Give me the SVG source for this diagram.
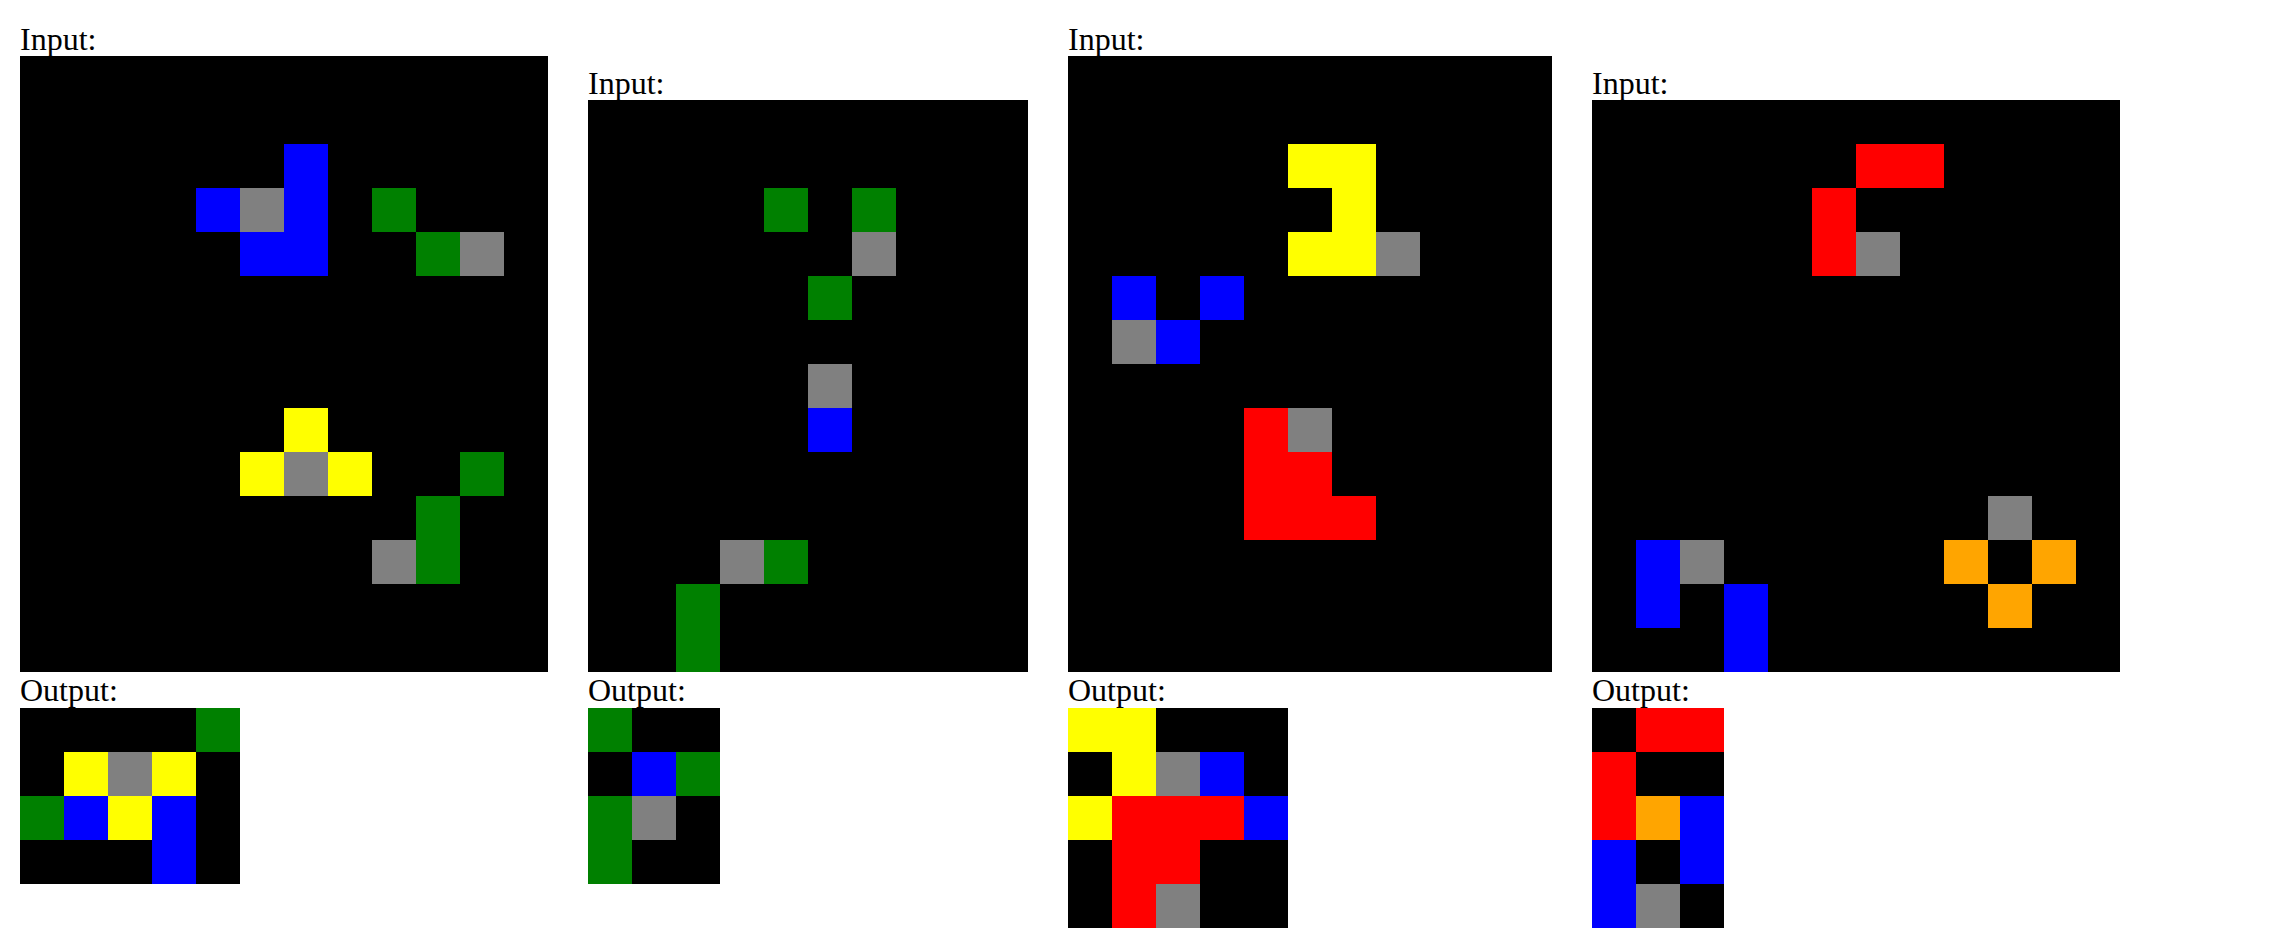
<svg xmlns="http://www.w3.org/2000/svg" width="2272" height="948" viewBox="0 0 2272 948">
<style>
text{font-family:"Liberation Serif","Times New Roman",serif;font-size:32px;fill:#000}
.k{fill:#000}.b{fill:#0000ff}.g{fill:#008000}.y{fill:#ffff00}.r{fill:#ff0000}.o{fill:#ffa500}.e{fill:#808080}
</style>
<rect width="2272" height="948" fill="#fff"/>
<g id="panel1">
<text x="20" y="49.5">Input:</text>
<g id="p1-input">
<rect class="k" x="20" y="56" width="528" height="616"/>
<rect class="b" x="284" y="144" width="44" height="132"/>
<rect class="b" x="196" y="188" width="44" height="44"/>
<rect class="e" x="240" y="188" width="44" height="44"/>
<rect class="b" x="240" y="232" width="44" height="44"/>
<rect class="g" x="372" y="188" width="44" height="44"/>
<rect class="g" x="416" y="232" width="44" height="44"/>
<rect class="e" x="460" y="232" width="44" height="44"/>
<rect class="y" x="284" y="408" width="44" height="44"/>
<rect class="y" x="240" y="452" width="44" height="44"/>
<rect class="e" x="284" y="452" width="44" height="44"/>
<rect class="y" x="328" y="452" width="44" height="44"/>
<rect class="g" x="460" y="452" width="44" height="44"/>
<rect class="g" x="416" y="496" width="44" height="88"/>
<rect class="e" x="372" y="540" width="44" height="44"/>
</g>
<text x="20" y="700.5">Output:</text>
<g id="p1-output">
<rect class="k" x="20" y="708" width="220" height="176"/>
<rect class="g" x="196" y="708" width="44" height="44"/>
<rect class="y" x="64" y="752" width="44" height="44"/>
<rect class="e" x="108" y="752" width="44" height="44"/>
<rect class="y" x="152" y="752" width="44" height="44"/>
<rect class="g" x="20" y="796" width="44" height="44"/>
<rect class="b" x="64" y="796" width="44" height="44"/>
<rect class="y" x="108" y="796" width="44" height="44"/>
<rect class="b" x="152" y="796" width="44" height="88"/>
</g>
</g>
<g id="panel2">
<text x="588" y="93.5">Input:</text>
<g id="p2-input">
<rect class="k" x="588" y="100" width="440" height="572"/>
<rect class="g" x="764" y="188" width="44" height="44"/>
<rect class="g" x="852" y="188" width="44" height="44"/>
<rect class="e" x="852" y="232" width="44" height="44"/>
<rect class="g" x="808" y="276" width="44" height="44"/>
<rect class="e" x="808" y="364" width="44" height="44"/>
<rect class="b" x="808" y="408" width="44" height="44"/>
<rect class="e" x="720" y="540" width="44" height="44"/>
<rect class="g" x="764" y="540" width="44" height="44"/>
<rect class="g" x="676" y="584" width="44" height="88"/>
</g>
<text x="588" y="700.5">Output:</text>
<g id="p2-output">
<rect class="k" x="588" y="708" width="132" height="176"/>
<rect class="g" x="588" y="708" width="44" height="44"/>
<rect class="b" x="632" y="752" width="44" height="44"/>
<rect class="g" x="676" y="752" width="44" height="44"/>
<rect class="g" x="588" y="796" width="44" height="88"/>
<rect class="e" x="632" y="796" width="44" height="44"/>
</g>
</g>
<g id="panel3">
<text x="1068" y="49.5">Input:</text>
<g id="p3-input">
<rect class="k" x="1068" y="56" width="484" height="616"/>
<rect class="y" x="1288" y="144" width="88" height="44"/>
<rect class="y" x="1332" y="188" width="44" height="44"/>
<rect class="y" x="1288" y="232" width="88" height="44"/>
<rect class="e" x="1376" y="232" width="44" height="44"/>
<rect class="b" x="1112" y="276" width="44" height="44"/>
<rect class="b" x="1200" y="276" width="44" height="44"/>
<rect class="e" x="1112" y="320" width="44" height="44"/>
<rect class="b" x="1156" y="320" width="44" height="44"/>
<rect class="r" x="1244" y="408" width="44" height="44"/>
<rect class="e" x="1288" y="408" width="44" height="44"/>
<rect class="r" x="1244" y="452" width="88" height="44"/>
<rect class="r" x="1244" y="496" width="132" height="44"/>
</g>
<text x="1068" y="700.5">Output:</text>
<g id="p3-output">
<rect class="k" x="1068" y="708" width="220" height="220"/>
<rect class="y" x="1068" y="708" width="88" height="44"/>
<rect class="y" x="1112" y="752" width="44" height="44"/>
<rect class="e" x="1156" y="752" width="44" height="44"/>
<rect class="b" x="1200" y="752" width="44" height="44"/>
<rect class="y" x="1068" y="796" width="44" height="44"/>
<rect class="r" x="1112" y="796" width="132" height="44"/>
<rect class="b" x="1244" y="796" width="44" height="44"/>
<rect class="r" x="1112" y="840" width="88" height="44"/>
<rect class="r" x="1112" y="884" width="44" height="44"/>
<rect class="e" x="1156" y="884" width="44" height="44"/>
</g>
</g>
<g id="panel4">
<text x="1592" y="93.5">Input:</text>
<g id="p4-input">
<rect class="k" x="1592" y="100" width="528" height="572"/>
<rect class="r" x="1856" y="144" width="88" height="44"/>
<rect class="r" x="1812" y="188" width="44" height="88"/>
<rect class="e" x="1856" y="232" width="44" height="44"/>
<rect class="e" x="1988" y="496" width="44" height="44"/>
<rect class="o" x="1944" y="540" width="44" height="44"/>
<rect class="o" x="2032" y="540" width="44" height="44"/>
<rect class="o" x="1988" y="584" width="44" height="44"/>
<rect class="b" x="1636" y="540" width="44" height="88"/>
<rect class="e" x="1680" y="540" width="44" height="44"/>
<rect class="b" x="1724" y="584" width="44" height="88"/>
</g>
<text x="1592" y="700.5">Output:</text>
<g id="p4-output">
<rect class="k" x="1592" y="708" width="132" height="220"/>
<rect class="r" x="1636" y="708" width="88" height="44"/>
<rect class="r" x="1592" y="752" width="44" height="88"/>
<rect class="o" x="1636" y="796" width="44" height="44"/>
<rect class="b" x="1680" y="796" width="44" height="88"/>
<rect class="b" x="1592" y="840" width="44" height="88"/>
<rect class="e" x="1636" y="884" width="44" height="44"/>
</g>
</g>
<g id="connectors"/>
</svg>
